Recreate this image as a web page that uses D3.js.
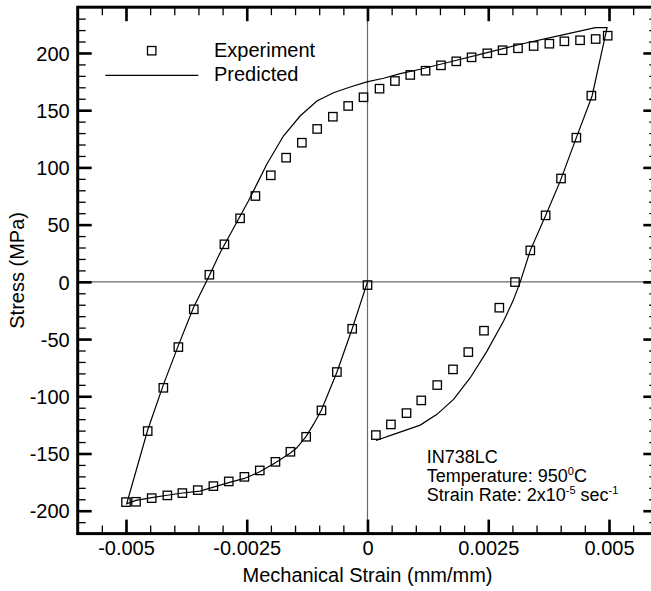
<!DOCTYPE html>
<html>
<head>
<meta charset="utf-8">
<script src="https://cdn.jsdelivr.net/npm/d3@7"></script>
<style>
  html, body { margin: 0; padding: 0; background: #ffffff; }
  svg { display: block; font-family: "Liberation Sans", Arial, Helvetica, sans-serif; }
</style>
</head>
<body>
<div id="chart"></div>
<script>
// experiment: cyclic test points (compression first, then tension, then unload)
const expStrain = [
  0, -0.000317, -0.000634, -0.000953, -0.00127, -0.001596, -0.001906, -0.00223,
  -0.002549, -0.002872, -0.003191, -0.003514, -0.003833, -0.004144, -0.004468, -0.004793, -0.005,
  -0.004551, -0.004227, -0.003916, -0.003597, -0.003274, -0.002963, -0.002638, -0.002321,
  -0.002002, -0.001685, -0.001359, -0.001042, -0.000717, -0.0004, -0.000083, 0.000249,
  0.000568, 0.000885, 0.001202, 0.001521, 0.001838, 0.002155, 0.00248, 0.002797,
  0.003116, 0.00344, 0.003765, 0.004076, 0.004401, 0.004724, 0.004973,
  0.004635, 0.004324, 0.004007, 0.003688, 0.003371, 0.003054, 0.002729, 0.002412,
  0.002087, 0.00177, 0.001444, 0.001113, 0.000808, 0.000485, 0.000174
];
const expStress = [
  -2.8, -41, -78.8, -112.3, -135.4, -148.5, -157.3, -164.8,
  -170.4, -174.4, -178.5, -182, -184.6, -186.6, -189, -192.2, -192.5,
  -130.4, -92.6, -57, -24, 6.2, 32.8, 55.5, 75,
  93.1, 108.5, 121.6, 133.6, 144.3, 153.7, 161.3, 168.8,
  175.5, 180.8, 184.5, 189.2, 192.7, 196.2, 199.7, 202.4,
  204.1, 206.1, 208.1, 210.2, 211.1, 212.2, 215.1,
  162.7, 126, 90.3, 58.1, 27.5, -0.2, -22.6, -42.7,
  -61.4, -76.5, -90.2, -103.6, -114.7, -124.6, -133.9
];

// predicted: model curve, one continuous path
const predStrain = [
  0, -0.000317, -0.000634, -0.000953, -0.001119, -0.00127, -0.001463, -0.001596,
  -0.001906, -0.00223, -0.002549, -0.002872, -0.003191, -0.003467, -0.003833, -0.004144,
  -0.004468, -0.004793, -0.004986,
  -0.004551, -0.004227, -0.003916, -0.003597, -0.003274, -0.003052, -0.0028, -0.002466,
  -0.002259, -0.002085, -0.001741, -0.001395, -0.001048, -0.000705, -0.000358, -0.000012,
  0.000332, 0.000678, 0.001092, 0.001782, 0.002474, 0.003164, 0.003854, 0.004718, 0.00496,
  0.00465, 0.004324, 0.00399, 0.003688, 0.003371, 0.003163, 0.003013, 0.002818,
  0.002474, 0.002128, 0.001782, 0.001438, 0.001092, 0.000539, 0.000174
];
const predStress = [
  0, -41, -79, -112, -124.6, -135, -145, -149.5,
  -158, -166, -171.8, -175.5, -179.4, -182.9, -184.5, -186.5,
  -188.5, -191, -194,
  -129.5, -90, -55.5, -22, 5.5, 25.4, 44.8, 70.6,
  88, 102.7, 127.4, 144.9, 158, 165.3, 170.3, 174.7,
  177.9, 181.9, 185.8, 193, 200.3, 207.6, 214, 222.1, 222.1,
  162.4, 126, 88, 58, 27.5, 0, -16.6, -34.3,
  -60.5, -83.8, -102.7, -115.8, -125.2, -133.3, -138.6
];

const xMajor = [-0.005, -0.0025, 0, 0.0025, 0.005];
const yMajor = [-200, -150, -100, -50, 0, 50, 100, 150, 200];
const xMinor = d3.range(-11, 12).map(i => i * 0.0005);
const yMinor = d3.range(-21, 24).map(i => i * 10);

const xTitle = 'Mechanical Strain (mm/mm)';
const yTitle = 'Stress (MPa)';
const legendLabels = ['Experiment', 'Predicted'];

const width = 651, height = 591;
const plot = { left: 77.7, right: 657.3, top: 7.2, bottom: 533.6 };

const svg = d3.select('#chart').append('svg')
  .attr('width', width)
  .attr('height', height);

const x = d3.scaleLinear().domain([-0.006, 0.006]).range([plot.left, plot.right]);
const y = d3.scaleLinear().domain([-220, 240]).range([plot.bottom, plot.top]);

// zero lines
svg.append('line')
  .attr('x1', x(0)).attr('x2', x(0))
  .attr('y1', plot.top).attr('y2', plot.bottom)
  .attr('stroke', '#6a6a6a').attr('stroke-width', 1.2);
svg.append('line')
  .attr('x1', plot.left).attr('x2', plot.right)
  .attr('y1', y(0)).attr('y2', y(0))
  .attr('stroke', '#6a6a6a').attr('stroke-width', 1.2);

// axes: ticks point inward on all four sides
function styleAxis(g, strokeW) {
  g.select('.domain').remove();
  g.selectAll('.tick line').attr('stroke', '#000').attr('stroke-width', strokeW);
  g.selectAll('.tick text').attr('fill', '#000').attr('font-size', '20px');
}

const axes = [
  { gen: d3.axisBottom, scale: x, pos: `translate(0,${plot.bottom})` },
  { gen: d3.axisTop, scale: x, pos: `translate(0,${plot.top})` },
  { gen: d3.axisLeft, scale: y, pos: `translate(${plot.left},0)` },
  { gen: d3.axisRight, scale: y, pos: `translate(${plot.right},0)` }
];

axes.forEach((a, i) => {
  const isX = a.scale === x;
  svg.append('g')
    .attr('transform', a.pos)
    .call(a.gen(a.scale).tickValues(isX ? xMinor : yMinor).tickSize(-8).tickFormat(''))
    .call(g => styleAxis(g, 1.3));

  const major = a.gen(a.scale)
    .tickValues(isX ? xMajor : yMajor)
    .tickSize(-14)
    .tickPadding(i === 0 ? 7.5 : 8)
    .tickFormat(i < 3 && i !== 1 ? (d => String(d)) : '');

  svg.append('g')
    .attr('transform', a.pos)
    .call(major)
    .call(g => styleAxis(g, 2.6))
    .call(g => { if (i === 2) g.selectAll('.tick text').attr('dy', '0.36em'); });
});

// frame
svg.append('rect')
  .attr('x', plot.left).attr('y', plot.top)
  .attr('width', plot.right - plot.left)
  .attr('height', plot.bottom - plot.top)
  .attr('fill', 'none')
  .attr('stroke', '#000')
  .attr('stroke-width', 3);

// predicted curve
const predPts = predStrain.map((s, i) => [s, predStress[i]]);
svg.append('path')
  .datum(predPts)
  .attr('d', d3.line().x(d => x(d[0])).y(d => y(d[1])))
  .attr('fill', 'none')
  .attr('stroke', '#000')
  .attr('stroke-width', 1.2);

// experiment markers
const sq = 8.4;
const expPts = expStrain.map((s, i) => [s, expStress[i]]);
svg.append('g').selectAll('rect')
  .data(expPts)
  .join('rect')
  .attr('x', d => x(d[0]) - sq / 2)
  .attr('y', d => y(d[1]) - sq / 2)
  .attr('width', sq)
  .attr('height', sq)
  .attr('fill', 'none')
  .attr('stroke', '#000')
  .attr('stroke-width', 1.3);

// axis titles
svg.append('text')
  .attr('x', x(0)).attr('y', 581.7)
  .attr('text-anchor', 'middle')
  .attr('font-size', '20px')
  .text(xTitle);

svg.append('text')
  .attr('transform', `translate(23.5,${(plot.top + plot.bottom) / 2}) rotate(-90)`)
  .attr('text-anchor', 'middle')
  .attr('font-size', '20px')
  .text(yTitle);

// legend
const legend = svg.append('g');
legend.append('rect')
  .attr('x', 151.7 - sq / 2).attr('y', 50.7 - sq / 2)
  .attr('width', sq).attr('height', sq)
  .attr('fill', 'none').attr('stroke', '#000').attr('stroke-width', 1.3);
legend.append('line')
  .attr('x1', 105.3).attr('x2', 198.3)
  .attr('y1', 75.3).attr('y2', 75.3)
  .attr('stroke', '#000').attr('stroke-width', 1.2);
legend.selectAll('text.lbl')
  .data(legendLabels)
  .join('text')
  .attr('class', 'lbl')
  .attr('x', 214)
  .attr('y', (d, i) => 57 + i * 24)
  .attr('font-size', '20px')
  .text(d => d);

// annotation block
const note = svg.append('g').attr('font-size', '18px');
note.append('text').attr('x', 426.7).attr('y', 463.3).text('IN738LC');

const t2 = note.append('text').attr('x', 426.7).attr('y', 482);
t2.append('tspan').text('Temperature: 950');
t2.append('tspan').attr('font-size', '11px').attr('dy', -7).text('0');
t2.append('tspan').attr('dy', 7).text('C');

const t3 = note.append('text').attr('x', 426.7).attr('y', 500.7);
t3.append('tspan').text('Strain Rate: 2x10');
t3.append('tspan').attr('font-size', '11px').attr('dy', -7).text('-5');
t3.append('tspan').attr('dy', 7).text(' sec');
t3.append('tspan').attr('font-size', '11px').attr('dy', -7).text('-1');
</script>
</body>
</html>
